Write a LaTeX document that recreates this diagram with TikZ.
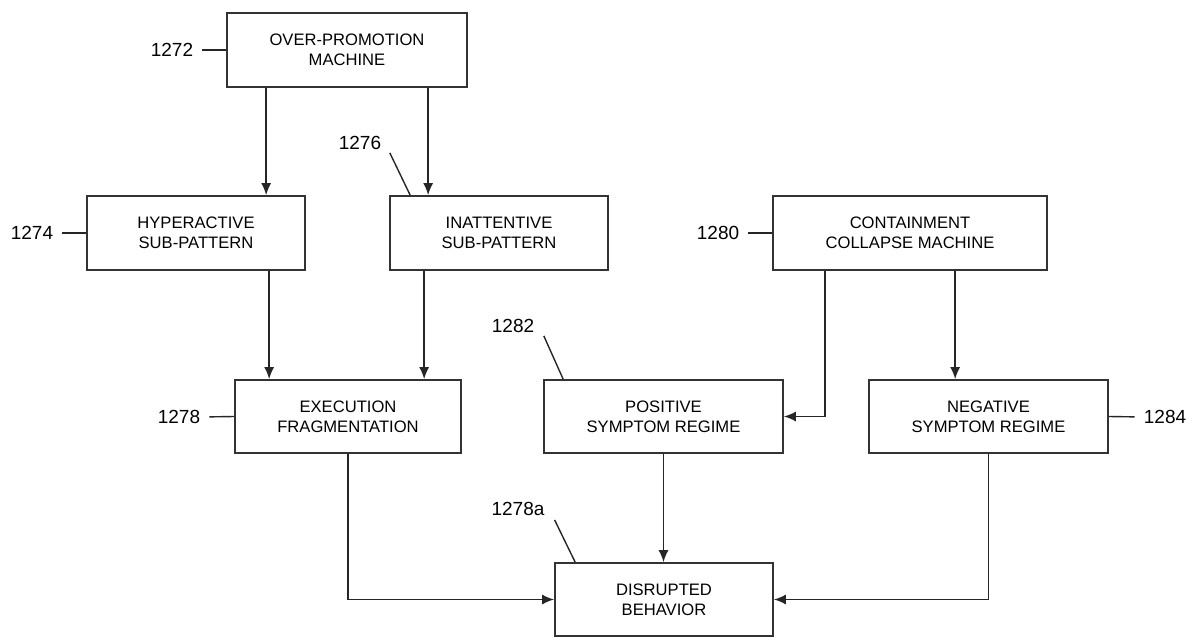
\documentclass[tikz,border=0pt]{standalone}
\usepackage{fontspec}
\setmainfont{Liberation Sans}
\usepackage{tikz}
\usetikzlibrary{arrows.meta,calc}

\begin{document}
\begin{tikzpicture}[
    x=1pt, y=-1pt,
    box/.style={draw=black!80, line width=1.7pt, align=center, inner sep=0pt,
        minimum height=74pt, font=\fontsize{16.6}{20}\selectfont},
    refnum/.style={inner sep=0pt, font=\fontsize{19}{22}\selectfont},
    arrow/.style={-{Latex[length=12pt,width=10pt]}, line width=1.5pt, draw=black!85},
    lead/.style={line width=1.4pt, draw=black!85}
]
    \useasboundingbox (0,0) rectangle (1191,637);
    % boxes
    \node[box, minimum width=240pt] (overpromo) at (347,50) {OVER-PROMOTION\\MACHINE};
    \node[box, minimum width=218pt] (hyper) at (196,233) {HYPERACTIVE\\SUB-PATTERN};
    \node[box, minimum width=218pt] (inatt) at (499,233) {INATTENTIVE\\SUB-PATTERN};
    \node[box, minimum width=274pt] (contain) at (910,233) {CONTAINMENT\\COLLAPSE MACHINE};
    \node[box, minimum width=226pt, minimum height=73pt] (execfrag) at (348,416.5) {EXECUTION\\FRAGMENTATION};
    \node[box, minimum width=239pt, minimum height=73pt] (positive) at (663.5,416.5) {POSITIVE\\SYMPTOM REGIME};
    \node[box, minimum width=239pt, minimum height=73pt] (negative) at (988.5,416.5) {NEGATIVE\\SYMPTOM REGIME};
    \node[box, minimum width=218pt, minimum height=73pt] (disrupted) at (664,599.5) {DISRUPTED\\BEHAVIOR};
    % reference numerals
    \node[refnum] (l1272) at (172,50) {1272};
    \node[refnum] (l1274) at (32,233) {1274};
    \node[refnum] (l1276) at (360,143) {1276};
    \node[refnum] (l1280) at (718,233) {1280};
    \node[refnum] (l1278) at (179,417) {1278};
    \node[refnum] (l1282) at (513,326) {1282};
    \node[refnum] (l1284) at (1165,417) {1284};
    \node[refnum] (l1278a) at (518,509) {1278a};
    \draw[lead, shorten <=9pt] (l1272.east) -- (overpromo.west);
    \draw[lead, shorten <=9pt] (l1274.east) -- (hyper.west);
    \draw[lead, shorten <=9pt] (l1280.east) -- (contain.west);
    \draw[lead, shorten <=9pt] (l1278.east) -- (execfrag.west);
    \draw[lead, shorten >=9pt] (negative.east) -- (l1284.west);
    \draw[lead] ($(l1276.south east)+(8.5,3)$) -- ($(inatt.north west)+(21,0)$);
    \draw[lead] ($(l1282.south east)+(9.5,3)$) -- ($(positive.north west)+(20,0)$);
    \draw[lead] ($(l1278a.south east)+(10,4)$) -- ($(disrupted.north west)+(21,0)$);
    % flow
    \draw[arrow] ($(overpromo.south west)+(40,0)$) coordinate (a1) -- (a1 |- hyper.north);
    \draw[arrow] ($(overpromo.south west)+(202,0)$) coordinate (a2) -- (a2 |- inatt.north);
    \draw[arrow] ($(hyper.south west)+(183,0)$) coordinate (a3) -- (a3 |- execfrag.north);
    \draw[arrow] ($(inatt.south west)+(35,0)$) coordinate (a4) -- (a4 |- execfrag.north);
    \draw[arrow] ($(contain.south west)+(53,0)$) |- (positive.east);
    \draw[arrow] ($(contain.south west)+(183,0)$) coordinate (a5) -- (a5 |- negative.north);
    \draw[arrow] (execfrag.south) |- (disrupted.west);
    \draw[arrow] (positive.south) -- (positive.south |- disrupted.north);
    \draw[arrow] (negative.south) |- (disrupted.east);
\end{tikzpicture}
\end{document}
